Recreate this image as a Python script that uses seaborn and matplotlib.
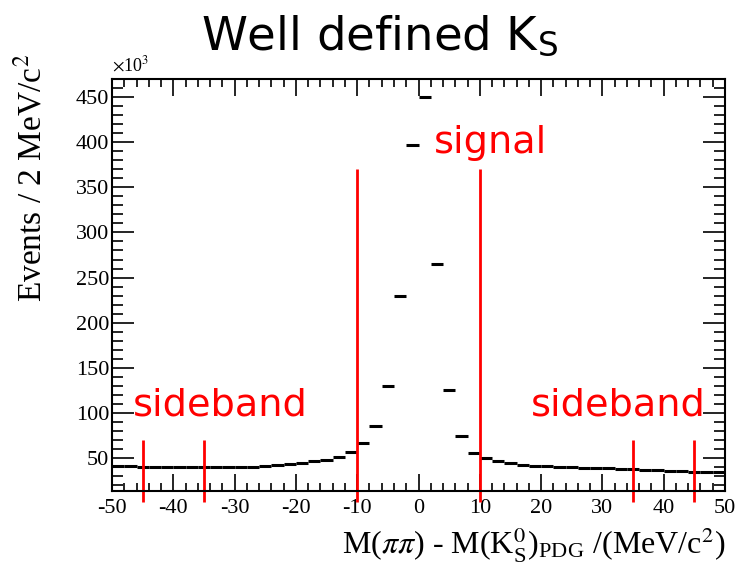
import numpy as np
import pandas as pd
import seaborn as sns
import matplotlib.pyplot as plt
from matplotlib.ticker import MultipleLocator

# bin centres (2 MeV bins from -50 to 50)
bin_centres = np.arange(-49, 50, 2)
# events per bin, in units of 10^3
counts = [
    41, 41, 40.5, 40.5, 40, 40, 40, 40, 40, 40.5,
    40.5, 40.5, 41, 42, 43.4, 44.8, 46.2, 47.8, 51.5, 57,
    67, 85.5, 130, 230, 397, 450, 265, 125, 74, 56,
    50, 46.5, 45, 42, 41.5, 41, 40.5, 40, 39.5, 39,
    38.5, 38, 37.5, 37, 36.5, 36, 35.5, 35, 34.5, 34,
]
signal_cuts = [-10, 10]
sideband_cuts = [-45, -35, 35, 45]

df = pd.DataFrame({"x": bin_centres, "n": counts})

sns.set_style("ticks")
plt.rcParams["font.family"] = ["Liberation Serif", "DejaVu Serif"]
plt.rcParams["mathtext.fontset"] = "stix"
plt.rcParams["axes.unicode_minus"] = False
plt.rcParams["text.color"] = "black"
plt.rcParams["axes.labelcolor"] = "black"
plt.rcParams["xtick.color"] = "black"
plt.rcParams["ytick.color"] = "black"
plt.rcParams["axes.edgecolor"] = "black"

fig = plt.figure(figsize=(7.35, 5.70), dpi=100)
ax = fig.add_axes([0.1524, 0.1386, 0.8340, 0.7228])

# histogram drawn as horizontal bin segments
ax.hlines(df["n"], df["x"] - 1, df["x"] + 1, color="black", linewidth=2.2)

# cut lines
ax.vlines(signal_cuts, 1, 370, color="red", linewidth=2, clip_on=False)
ax.vlines(sideband_cuts, 1, 70, color="red", linewidth=2, clip_on=False)

ax.set_xlim(-50, 50)
ax.set_ylim(13.5, 470)
ax.xaxis.set_major_locator(MultipleLocator(10))
ax.xaxis.set_minor_locator(MultipleLocator(2))
ax.yaxis.set_minor_locator(MultipleLocator(10))
ax.set_yticks([50, 100, 150, 200, 250, 300, 350, 400, 450])
ax.tick_params(which="both", direction="in", top=True, right=True,
               labelsize=16, width=1.2)
ax.tick_params(axis="y", which="major", length=16, pad=2)
ax.tick_params(axis="y", which="minor", length=8)
ax.tick_params(axis="x", which="major", length=12, pad=6)
ax.tick_params(axis="x", which="minor", length=6)
for s in ax.spines.values():
    s.set_linewidth(1.5)

ax.set_ylabel("Events / 2 MeV/c$^2$", fontsize=24, loc="top")
ax.yaxis.set_label_coords(-0.105, 1.062)
ax.set_xlabel("M($\\pi\\pi$) - M(K$^0_\\mathregular{S}$)$_\\mathregular{PDG}$ /(MeV/c$^2$)",
              fontsize=23, loc="right", labelpad=5)
ax.text(0.0, 1.01, "$\\times$10$^3$", transform=ax.transAxes, fontsize=13,
        ha="left", va="bottom")

sans = ["DejaVu Sans"]
ax.text(2.5, 399, "signal", color="red", fontsize=27.5, family=sans, ha="left", va="center")
ax.text(-32.3, 108, "sideband", color="red", fontsize=27.5, family=sans, ha="center", va="center")
ax.text(32.6, 108, "sideband", color="red", fontsize=27.5, family=sans, ha="center", va="center")

fig.text(0.516, 0.935, "Well defined K$_\\mathregular{S}$", fontsize=33.5,
         family=sans, ha="center", va="center")

fig.savefig("out.png", dpi=100)
